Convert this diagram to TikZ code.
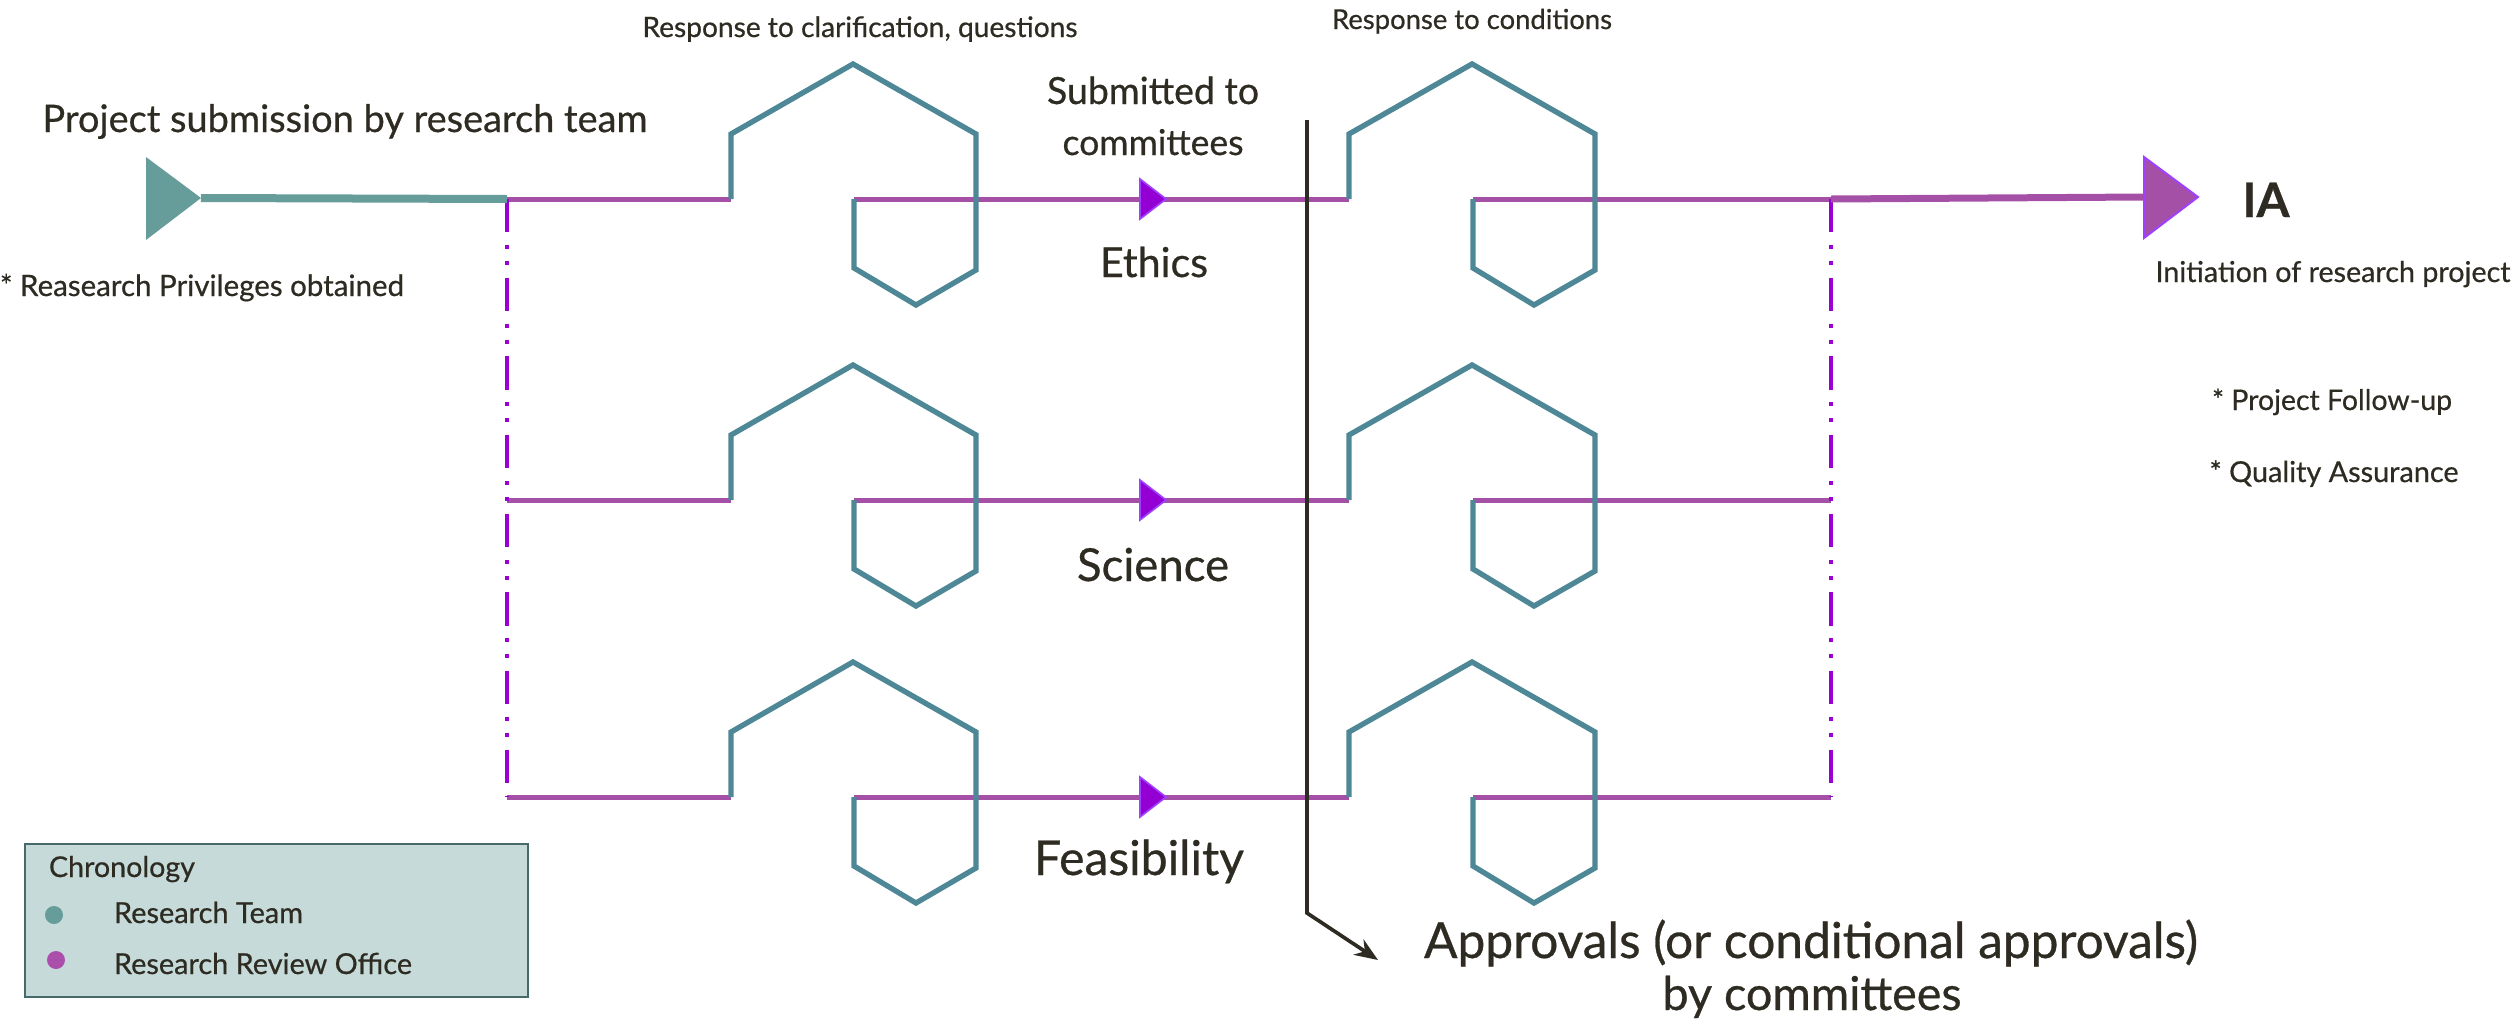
\documentclass[tikz,border=0pt]{standalone}
\usepackage{fontspec}
\setmainfont{Lato}
\usetikzlibrary{arrows.meta}
\definecolor{txtc}{HTML}{2D2B22}
\definecolor{tealA}{HTML}{669D9A}
\definecolor{hexc}{HTML}{4E8796}
\definecolor{purl}{HTML}{A450A6}
\definecolor{violf}{HTML}{9400D3}
\definecolor{viole}{HTML}{A040FF}
\definecolor{ddc}{HTML}{9B00D3}
\definecolor{legf}{HTML}{C5DAD9}
\definecolor{legb}{HTML}{466A6A}
\definecolor{legp}{HTML}{AC4FAC}
\newlength\upx
\setlength\upx{0.3pt}
\newcommand{\fw}[2]{\resizebox{#1\upx}{!}{#2}}
\begin{document}
\begin{tikzpicture}[x=0.3pt, y=-0.3pt,
  lbl/.style={inner sep=0pt, outer sep=0pt, anchor=base, text=txtc, font=\addfontfeature{FakeBold=0.6}},
  hexline/.style={draw=hexc, line width=1.6pt, line join=miter},
  pline/.style={draw=purl, line width=1.5pt},
  ddash/.style={draw=ddc, line width=1.2pt, dash pattern=on 10pt off 3.8pt on 1.2pt off 3.6pt on 1.2pt off 3.8pt},
  smallarrow/.style={fill=violf, draw=viole, line width=0.5pt, line join=miter},
  bigarrow/.style={fill=purl, draw=viole, line width=0.6pt, line join=miter},
  blk/.style={draw=txtc, line width=1.1pt},
  dotstyle/.style={circle, inner sep=0pt, minimum size=5.4pt}]
\useasboundingbox (0,0) rectangle (2517,1030);

% junction coordinates of the three committee rows
\foreach \r/\yy in {e/199, s/500, f/797}{
  \coordinate (a\r) at (507,\yy);
  \coordinate (b\r) at (731,\yy);
  \coordinate (c\r) at (854,\yy);
  \coordinate (d\r) at (1349,\yy);
  \coordinate (g\r) at (1473,\yy);
  \coordinate (h\r) at (1831,\yy);
  \coordinate (m\r) at (1140,\yy);
}

% purple review-office lines
\foreach \r in {e,s,f}{
  \draw[pline] (a\r) -- (b\r);
  \draw[pline] (c\r) -- (d\r);
  \draw[pline] (g\r) -- (h\r);
}

% teal hexagon loops
\foreach \r in {e,s,f}{
  \draw[hexline] (b\r) -- ++(0,-65) -- ++(122,-70) -- ++(123,70) -- ++(0,136) -- ++(-60,35) -- ++(-62,-37) -- (c\r);
  \draw[hexline] (d\r) -- ++(0,-65) -- ++(123,-70) -- ++(123,70) -- ++(0,136) -- ++(-61,35) -- ++(-61,-37) -- (g\r);
  \filldraw[smallarrow] (m\r) ++(0,-20) -- ++(26,20) -- ++(-26,20) -- cycle;
}

% dash-dot branch lines
\draw[ddash] (ae) -- (af);
\draw[ddash] (he) -- (hf);

% start of the process (research team)
\coordinate (st) at (201,198);
\fill[tealA] (146,157) -- (st) -- (146,240) -- cycle;
\draw[tealA, line width=2.4pt] (st) -- (ae);

% end: initiation
\coordinate (ia) at (2144,197);
\draw[purl, line width=2.1pt] (he) -- (ia);
\filldraw[bigarrow] (2144,157) -- (2198,197) -- (2144,238) -- cycle;

% black approval line
\coordinate (v1) at (1307,120);
\coordinate (v2) at (1307,913);
\coordinate (v3) at (1378,960);
\draw[blk, -{Stealth[length=7pt, width=5.5pt]}] (v1) -- (v2) -- (v3);

% texts
\node[lbl] (tsub) at (345,132) {\fw{605}{Project submission by research team}};
\node[lbl] (tpriv) at (202,296) {\fw{404}{* Reasearch Privileges obtained}};
\node[lbl] (tresp1) at (860,37) {\fw{435}{Response to clarification, questions}};
\node[lbl] (tresp2) at (1472,29) {\fw{280}{Response to conditions}};
\node[lbl] (tsubm1) at (1153,104) {\fw{212}{Submitted to}};
\node[lbl] (tsubm2) at (1153,155) {\fw{181}{committees}};
\node[lbl] (teth) at (1154,277) {\fw{108}{Ethics}};
\node[lbl] (tsci) at (1153,581) {\fw{152}{Science}};
\node[lbl] (tfea) at (1139,875) {\fw{210}{Feasibility}};
\node[lbl] (tia) at (2266,217) {\fw{47}{\bfseries IA}};
\node[lbl] (tinit) at (2333,282) {\fw{355}{Initiation of research project}};
\node[lbl] (tfol) at (2332,410) {\fw{240}{* Project Follow-up}};
\node[lbl] (tqa) at (2334,482) {\fw{249}{* Quality Assurance}};
\node[lbl] (tapp1) at (1811,958) {\fw{774}{Approvals (or conditional approvals)}};
\node[lbl] (tapp2) at (1812,1010) {\fw{299}{by committees}};

% legend
\node[draw=legb, fill=legf, line width=0.8pt, inner sep=0pt,
      minimum width=503\upx, minimum height=153\upx] (legend) at (276.5,920.5) {};
\node[lbl, anchor=base west] (tchr) at (49,877) {\fw{146}{Chronology}};
\node[dotstyle, fill=tealA] (dotT) at (54,915) {};
\node[lbl, anchor=base west] (tteam) at (114,923) {\fw{189}{Research Team}};
\node[dotstyle, fill=legp] (dotO) at (56,960) {};
\node[lbl, anchor=base west] (toff) at (114,974) {\fw{298}{Research Review Office}};
\end{tikzpicture}
\end{document}
